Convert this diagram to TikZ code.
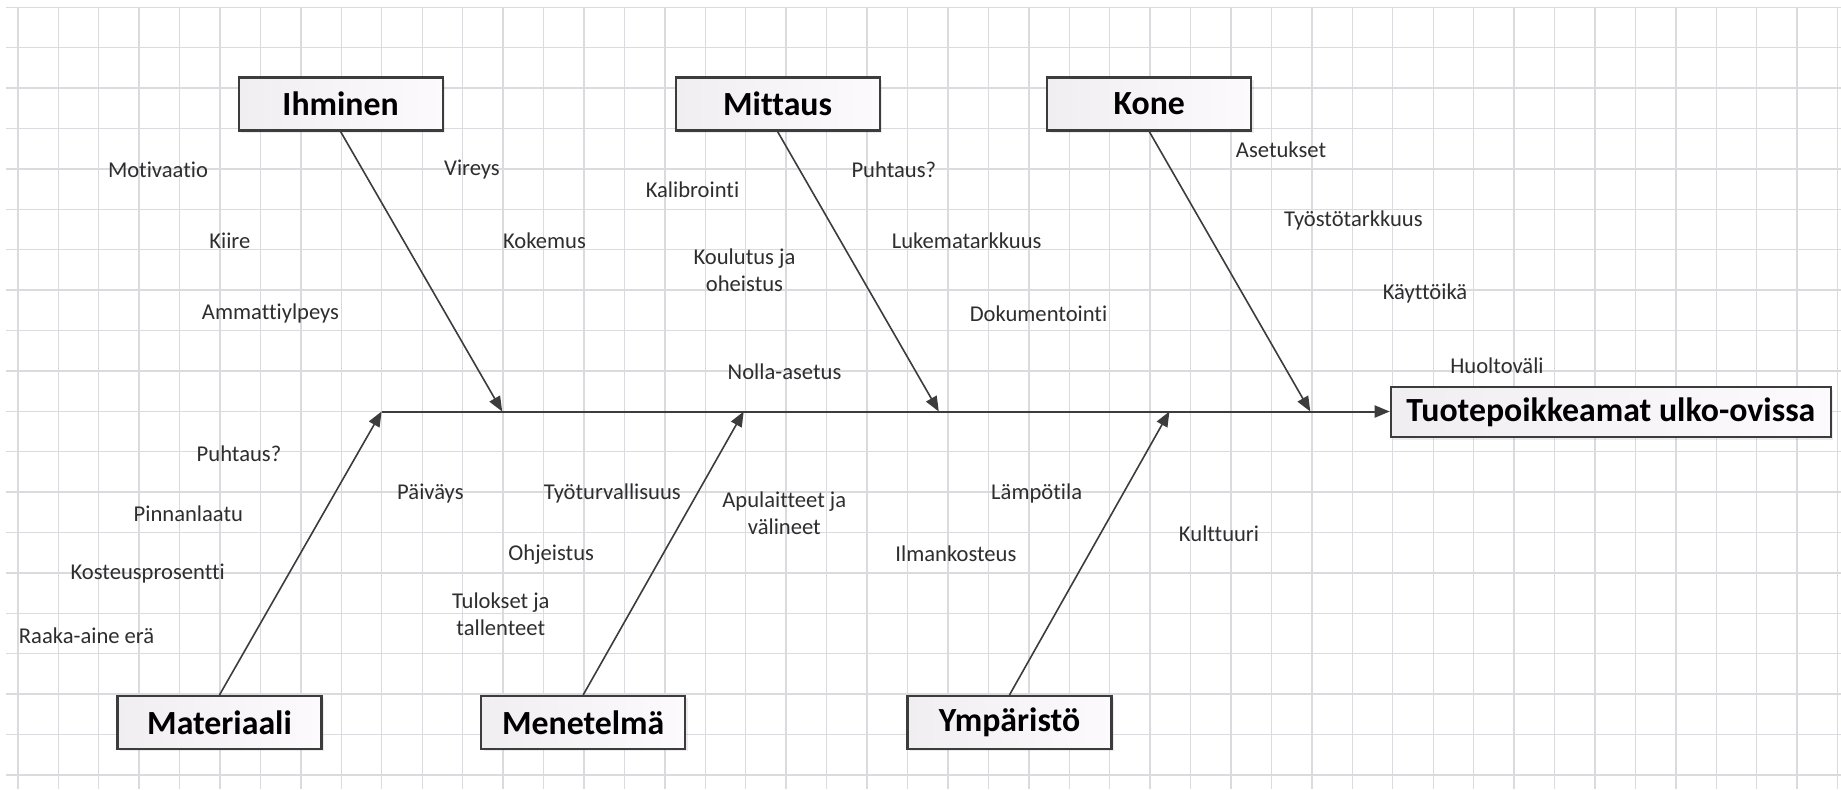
\documentclass[tikz,border=0pt]{standalone}
\usepackage{fontspec}
\setmainfont{Carlito}[Ligatures=NoCommon]
\usepackage{tikz}
\usetikzlibrary{arrows.meta,shadows}
\definecolor{gridGray}{HTML}{DADADF}
\definecolor{boneGray}{HTML}{3C3C3C}
\definecolor{textGray}{HTML}{2E2E2E}
\definecolor{boxFillL}{HTML}{F1EEF2}
\definecolor{boxFillR}{HTML}{FDFAFD}

\begin{document}
\begin{tikzpicture}[x=0.5pt,y=-0.5pt,
  cause/.style={text=textGray, font=\fontsize{11.3}{13.7}\selectfont, inner sep=0pt, align=center},
  catbox/.style={draw=boneGray, line width=1.1pt, left color=boxFillL, right color=boxFillR,
    drop shadow={opacity=0.15, shadow xshift=1.2pt, shadow yshift=-1.2pt},
    minimum width=102pt, minimum height=26.5pt, inner sep=0pt,
    font=\fontsize{16.9}{20}\selectfont\bfseries},
  bone/.style={draw=boneGray, line width=0.8pt, -{Triangle[length=7.5pt,width=6pt]}}]
\useasboundingbox (0,0) rectangle (1841,789);
\fill[white] (0,0) rectangle (1841,789);
% grid
\foreach \k in {0,...,45}{
  \draw[gridGray, line width=0.7pt] (17.8+40.44*\k,7.3) -- (17.8+40.44*\k,789);
}
\foreach \k in {0,...,19}{
  \draw[gridGray, line width=0.7pt] (6,7.3+40.4*\k) -- (1841,7.3+40.4*\k);
}
% where the bones meet the spine
\coordinate (tMat) at (381.6,411.5);
\coordinate (tIhm) at (502.2,411.5);
\coordinate (tMen) at (743.7,411.5);
\coordinate (tMit) at (938.8,411.5);
\coordinate (tYmp) at (1169.4,411.5);
\coordinate (tKon) at (1310.3,411.5);
% head
\node[catbox, minimum width=220pt, minimum height=25pt] (effect) at (1610.8,412.3) {Tuotepoikkeamat ulko-ovissa};
% categories
\node[catbox] (ihm) at (340.6,104) {Ihminen};
\node[catbox] (mit) at (777.6,104) {Mittaus};
\node[catbox] (kon) at (1149.3,104) {Kone};
\node[catbox] (mat) at (219.5,722.5) {Materiaali};
\node[catbox] (men) at (583.2,722.5) {Menetelmä};
\node[catbox] (ymp) at (1009.5,722.5) {Ympäristö};
% spine and bones
\draw[bone, line width=1pt] (tMat) -- (tMat -| effect.west);
\draw[bone] (ihm.south) -- (tIhm);
\draw[bone] (mit.south) -- (tMit);
\draw[bone] (kon.south) -- (tKon);
\draw[bone] (mat.north) -- (tMat);
\draw[bone] (men.north) -- (tMen);
\draw[bone] (ymp.north) -- (tYmp);
% Ihminen
\node[cause] (motiv) at (158,169.3) {Motivaatio};
\node[cause] (vireys) at (472,169.3) {Vireys};
\node[cause] (kiire) at (229.8,240.7) {Kiire};
\node[cause] (kokemus) at (544.5,240.7) {Kokemus};
\node[cause] (ammatti) at (270.5,313.3) {Ammattiylpeys};
% Mittaus
\node[cause] (kalib) at (692.5,190) {Kalibrointi};
\node[cause] (puhMit) at (893.8,169.3) {Puhtaus?};
\node[cause] (koulutus) at (744.5,270.3) {Koulutus ja\\oheistus};
\node[cause] (lukema) at (966.6,240.7) {Lukematarkkuus};
\node[cause] (dokum) at (1038.5,313.3) {Dokumentointi};
\node[cause] (nolla) at (784.5,371.7) {Nolla-asetus};
% Kone
\node[cause] (asetukset) at (1281,150) {Asetukset};
\node[cause] (tyosto) at (1353.3,220.7) {Työstötarkkuus};
\node[cause] (kaytto) at (1425,293.3) {Käyttöikä};
\node[cause] (huolto) at (1497,365.7) {Huoltoväli};
% Materiaali
\node[cause] (puhMat) at (239,453.3) {Puhtaus?};
\node[cause] (pinta) at (188.4,513.3) {Pinnanlaatu};
\node[cause] (kosteus) at (147.7,574) {Kosteusprosentti};
\node[cause] (raaka) at (86.6,635.7) {Raaka-aine erä};
% Menetelmä
\node[cause] (paivays) at (430.4,493.3) {Päiväys};
\node[cause] (tyoturva) at (612.3,493.3) {Työturvallisuus};
\node[cause] (ohjeistus) at (551.2,554.3) {Ohjeistus};
\node[cause] (tulokset) at (500.8,614.5) {Tulokset ja\\tallenteet};
\node[cause] (apulaite) at (784.3,513.3) {Apulaitteet ja\\välineet};
% Ympäristö
\node[cause] (lampo) at (1036.7,493.3) {Lämpötila};
\node[cause] (ilmank) at (955.9,554) {Ilmankosteus};
\node[cause] (kulttuuri) at (1219,533.5) {Kulttuuri};
\end{tikzpicture}
\end{document}
